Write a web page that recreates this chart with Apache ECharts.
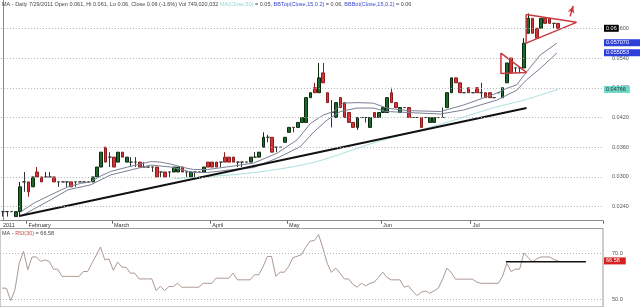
<!DOCTYPE html>
<html><head><meta charset="utf-8">
<script src="https://cdn.jsdelivr.net/npm/echarts@6/dist/echarts.min.js"></script>
<style>html,body{margin:0;padding:0;background:#fff}#c{width:640px;height:307px}</style>
</head><body><div id="c"></div>
<script>
// ---- data ----
const dates = [
"2011-01-21","2011-01-24","2011-01-25","2011-01-27","2011-01-28","2011-01-31",
"2011-02-01","2011-02-02","2011-02-03","2011-02-04","2011-02-07","2011-02-08","2011-02-09","2011-02-10","2011-02-11","2011-02-14","2011-02-15","2011-02-16","2011-02-17","2011-02-18","2011-02-21","2011-02-22","2011-02-23","2011-02-24","2011-02-25","2011-02-28",
"2011-03-01","2011-03-02","2011-03-03","2011-03-04","2011-03-07","2011-03-08","2011-03-09","2011-03-10","2011-03-11","2011-03-14","2011-03-15","2011-03-16","2011-03-17","2011-03-18","2011-03-21","2011-03-22","2011-03-23","2011-03-24","2011-03-25","2011-03-28","2011-03-29","2011-03-30","2011-03-31",
"2011-04-01","2011-04-04","2011-04-05","2011-04-06","2011-04-07","2011-04-08","2011-04-11","2011-04-12","2011-04-13","2011-04-14","2011-04-15","2011-04-18","2011-04-19","2011-04-20","2011-04-21","2011-04-27","2011-04-28","2011-04-29",
"2011-05-02","2011-05-03","2011-05-04","2011-05-05","2011-05-06","2011-05-09","2011-05-10","2011-05-11","2011-05-12","2011-05-13","2011-05-16","2011-05-17","2011-05-18","2011-05-19","2011-05-20","2011-05-23","2011-05-24","2011-05-25","2011-05-26","2011-05-27","2011-05-30","2011-05-31",
"2011-06-01","2011-06-02","2011-06-03","2011-06-06","2011-06-07","2011-06-08","2011-06-09","2011-06-10","2011-06-14","2011-06-15","2011-06-16","2011-06-17","2011-06-20","2011-06-21","2011-06-22","2011-06-23","2011-06-24","2011-06-27","2011-06-28","2011-06-29","2011-06-30",
"2011-07-01","2011-07-04","2011-07-05","2011-07-06","2011-07-07","2011-07-08","2011-07-11","2011-07-12","2011-07-13","2011-07-14","2011-07-15","2011-07-18","2011-07-19","2011-07-20","2011-07-21","2011-07-22","2011-07-25","2011-07-26","2011-07-27","2011-07-28","2011-07-29",
"2011-08-01","2011-08-02","2011-08-03","2011-08-04","2011-08-05","2011-08-08","2011-08-09","2011-08-10","2011-08-11","2011-08-12"
];
const opens = [
.023,.023,.023,.022,.023,.029,
.029,.028,.031,.030,.030,.030,.030,.029,.029,.029,.029,.029,.029,.029,.029,.029,.030,.032,.036,.034,
.034,.033,.035,.033,.033,.033,.033,.032,.032,.032,.032,.031,.031,.031,.031,.031,.032,.031,.030,.031,.031,.031,.033,
.033,.033,.033,.034,.034,.034,.033,.033,.033,.033,.034,.034,.036,.038,.038,.036,.036,.037,
.039,.040,.040,.041,.041,.046,.048,.047,.051,.047,.043,.042,.046,.045,.043,.041,.040,.042,.042,.040,.043,.042,
.043,.043,.047,.045,.043,.044,.044,.042,.042,.042,.042,.041,.041,.042,.042,.044,.047,.050,.049,.047,.048,
.047,.048,.047,.047,.047,.046,.047,.046,.049,.054,.052,.052,.052,.059,.062,.060,.060,.062,.062,.061,.061
];
const closes = [
.023,.023,.023,.023,.028,.029,
.027,.030,.030,.029,.030,.030,.029,.029,.029,.029,.028,.029,.029,.029,.029,.030,.032,.035,.033,.034,
.032,.035,.034,.034,.033,.033,.032,.032,.032,.032,.030,.031,.030,.031,.032,.032,.031,.031,.031,.031,.031,.032,.032,
.032,.032,.033,.033,.033,.033,.033,.033,.033,.034,.034,.035,.038,.038,.035,.036,.036,.038,
.040,.040,.041,.042,.046,.047,.047,.050,.049,.045,.043,.045,.044,.042,.041,.040,.042,.042,.042,.042,.042,.043,
.044,.046,.045,.044,.044,.044,.042,.042,.042,.040,.042,.042,.042,.042,.042,.047,.050,.049,.047,.047,.047,
.047,.047,.047,.046,.046,.046,.047,.048,.053,.051,.052,.052,.057,.062,.059,.058,.062,.061,.061,.061,.060
];
const lows = [
.022,.022,.023,.022,.022,.027,
.026,.028,.030,.029,.030,.030,.029,.028,.029,.028,.028,.028,.029,.029,.029,.029,.030,.032,.033,.032,
.032,.033,.034,.033,.032,.032,.032,.032,.032,.031,.030,.030,.030,.030,.031,.031,.031,.030,.030,.030,.031,.031,.032,
.032,.032,.032,.033,.033,.033,.032,.032,.033,.033,.034,.034,.036,.037,.035,.035,.036,.037,
.039,.039,.040,.041,.041,.046,.047,.047,.049,.045,.040,.042,.044,.042,.041,.040,.0395,.042,.041,.040,.042,.042,
.043,.043,.045,.044,.043,.044,.042,.042,.042,.040,.042,.041,.041,.042,.042,.044,.047,.049,.047,.047,.047,
.047,.047,.046,.046,.046,.046,.047,.046,.049,.051,.051,.051,.052,.059,.059,.058,.060,.061,.061,.060,.060
];
const highs = [
.023,.023,.023,.023,.029,.031,
.029,.030,.032,.030,.031,.031,.030,.029,.029,.029,.029,.029,.029,.029,.029,.030,.032,.035,.036,.035,
.034,.035,.035,.034,.034,.034,.033,.033,.032,.032,.032,.031,.031,.031,.032,.032,.032,.031,.031,.031,.031,.032,.033,
.033,.033,.033,.035,.034,.034,.033,.033,.033,.034,.035,.035,.039,.0385,.038,.036,.036,.038,
.040,.040,.041,.042,.046,.047,.049,.053,.053,.047,.0455,.045,.046,.045,.043,.041,.042,.042,.042,.042,.043,.043,
.044,.046,.048,.045,.044,.044,.044,.042,.042,.042,.042,.042,.042,.042,.044,.047,.050,.050,.049,.047,.048,
.047,.048,.049,.047,.047,.046,.047,.048,.053,.054,.052,.052,.058,.063,.062,.060,.062,.062,.062,.061,.061
];
// indicator lines: [bar index, price]
const bbTop = [[4.2,.0230],[7.2,.0247],[11.2,.0264],[15.2,.0280],[18.2,.0287],[20.5,.0290],[22.9,.0302],[25.2,.0311],[29.2,.0320],[32.2,.0326],[34.6,.0331],[36.9,.0330],[39.3,.0326],[42.3,.0319],[44.6,.0315],[47.9,.0315],[54,.0322],[58.7,.0328],[64.2,.0348],[68.9,.0375],[72,.0408],[75,.0425],[77.4,.0432],[79.7,.0449],[82.9,.0450],[86.7,.0449],[89.9,.0439],[94.6,.0434],[102.4,.0432],[107.8,.0445],[115.6,.0469],[118,.0479],[120.3,.0486],[122.6,.0512],[125.8,.0546],[129.7,.0570]];
const bbBot = [[4.2,.0221],[11.2,.0254],[15.2,.0274],[20.5,.0284],[25.2,.0304],[34.6,.0324],[39.3,.0320],[44.6,.0309],[47.9,.0309],[54,.0315],[58.7,.0319],[64.2,.0338],[69.6,.0361],[72.8,.0391],[75.9,.0415],[79,.0432],[82.9,.0439],[86.7,.0439],[89.9,.0432],[102.4,.0427],[107.8,.0435],[115.6,.0455],[120.3,.0475],[122.6,.0496],[125.8,.0519],[129.7,.0550]];
const ma50 = [[40,.0297],[47,.0300],[60,.0310],[73,.0330],[88,.0372],[102,.0405],[115,.0440],[122,.0455],[130,.0477]];
const trendLine = [[3.8,.0221],[122.6,.0439]];
const flagTriangle = [[116.6,.0550],[122.6,.0511],[116.6,.0509],[116.6,.0550]];
const pennant = [[122.5,.0628],[134.3,.0612],[122.5,.0570],[122.5,.0628]];
const arrowPts = [[132.8,.0624],[133.5,.0645]];
const rsi = [
54.8,54.8,49.4,54.1,65.6,70.7,62.8,68.3,68.3,66.4,67.0,66.4,63.0,63.0,59.9,59.9,59.9,59.9,59.9,62.0,
62.0,65.6,69.0,72.6,67.1,67.4,62.5,66.1,63.9,63.8,61.3,61.3,58.8,58.8,58.8,58.8,53.8,55.5,53.8,55.5,
55.5,56.9,55.2,55.2,55.2,55.2,55.2,56.9,56.9,56.9,59.1,59.1,59.1,59.1,61.3,58.4,58.4,58.4,58.4,60.6,
60.6,64.0,68.5,68.5,59.9,61.7,61.7,64.2,68.0,68.6,69.3,72.5,75.1,75.4,78.0,72.2,65.6,61.6,63.5,61.3,
58.8,58.8,56.5,55.2,56.9,55.8,56.9,57.4,59.4,61.7,59.4,58.4,58.4,58.4,55.2,55.8,53.5,51.6,53.0,53.6,
52.6,53.6,54.8,58.7,63.5,61.6,58.7,58.7,58.7,58.7,58.7,57.4,56.9,56.9,56.9,56.9,56.9,59.9,65.6,62.0,
63.0,63.0,70.0,68.0,66.1,67.5,68.3,68.3,68.3,67.2,66.6
];
const rsiLevel = [[117.8,66.2],[136.5,66.2]];
const priceTicks = [0.024,0.030,0.036,0.042,0.048,0.054,0.060];
const rsiTicks = [50,70];
const monthLabels = ["2011","February","March","April","May","Jun","Jul"];
const lastValues = {close:"0.06", bbTop:0.05707, bbTopText:"0.057070", bbBot:0.055053, bbBotText:"0.055053", ma:0.04766, maText:"0.04766", rsi:66.58, rsiText:"66.58"};

// ---- build ----
const candles = opens.map((o,i)=>[o, closes[i], lows[i], highs[i]]);
const labelAt = {};
let prevM = -1, k = 0;
dates.slice(0, opens.length).forEach((d,i)=>{ const m = +d.slice(5,7); if (m!==prevM){ labelAt[i] = monthLabels[k++]; prevM = m; } });
const isLbl = (i)=> labelAt[i] !== undefined;
const F = 'Liberation Sans, Arial, sans-serif';
const FS = 5.5;
const N = dates.length;
const HIDE = {color:'rgba(0,0,0,0)', width:0};
const boxLabel = (txt, bg, fg, pr) => ({show:true, position:'end', distance:1, formatter:txt, backgroundColor:bg, color:fg, fontSize:FS, fontFamily:F, padding:[1,pr||4,0,2]});

const chart = echarts.init(document.getElementById('c'), null, {renderer:'canvas'});
chart.setOption({
  animation:false,
  backgroundColor:'#fff',
  textStyle:{fontFamily:F},
  title:[
    {left:2, top:1, padding:0, text:"MA - Daily 7/29/2011 Open 0.061, Hi 0.061, Lo 0.06, Close 0.06 (-1.6%) Vol 749,020,032 {t|MA(Close,50)} = 0.05, {b|BBTop(Close,15,0.2)} = 0.06, {b|BBBot(Close,15,0.2)} = 0.06",
     textStyle:{fontSize:FS, fontWeight:'normal', color:'#444', fontFamily:F, rich:{t:{color:'#8fd8d0',fontSize:FS,fontFamily:F},b:{color:'#3a48d0',fontSize:FS,fontFamily:F}}}},
    {left:2, top:230, padding:0, text:"MA - {r|RSI(30)} = 66.58",
     textStyle:{fontSize:FS, fontWeight:'normal', color:'#444', fontFamily:F, rich:{r:{color:'#c04848',fontSize:FS,fontFamily:F}}}}
  ],
  grid:[
    {left:0, top:0, width:603, height:220.7},
    {left:0, top:228.5, width:603, height:80, show:true, borderColor:'#9a9a9a', borderWidth:1}
  ],
  xAxis:[
    {type:'category', gridIndex:0, data:dates, boundaryGap:true,
     axisLine:{lineStyle:{color:'#8a8a8a'}},
     axisTick:{show:true, interval:(i)=>isLbl(i) && i>0, length:3, lineStyle:{color:'#666'}},
     axisLabel:{interval:(i)=>isLbl(i), formatter:(v,i)=>labelAt[i]||'', align:'left', fontSize:FS, color:'#333', margin:1.5, fontFamily:F}},
    {type:'value', gridIndex:0, min:-0.5, max:N-0.5, show:false},
    {type:'value', gridIndex:1, min:-0.5, max:N-0.5, show:false}
  ],
  yAxis:[
    {type:'value', gridIndex:0, position:'right', min:0.02117, max:0.06571, axisLine:{show:true, lineStyle:{color:'#8a8a8a'}}, axisLabel:{show:false}, axisTick:{show:false}, splitLine:{show:false}},
    {type:'value', gridIndex:1, position:'right', min:46.65, max:80.6, axisLine:{show:false}, axisLabel:{show:false}, axisTick:{show:false}, splitLine:{show:false}}
  ],
  series:[
    {type:'candlestick', xAxisIndex:0, yAxisIndex:0, data:candles, barWidth:3.2,
     itemStyle:{color:'#1e6a2c', color0:'#d2363a', borderColor:'#0c2a10', borderColor0:'#8e1c1c', borderColorDoji:'#333', borderWidth:1},
     markLine:{silent:true, symbol:['none','none'], precision:6, animation:false,
       lineStyle:{color:'#b4b4b4', type:[1,2], width:1},
       label:{position:'end', distance:9, fontSize:FS, color:'#555', fontFamily:F, formatter:(p)=>p.value.toFixed(4)},
       data: priceTicks.map(v=>({yAxis:v})).concat([
         {yAxis:0.060, lineStyle:HIDE, label:boxLabel(lastValues.close,'#000','#fff',2)}
       ])}},
    {type:'line', name:'BBTop', xAxisIndex:1, yAxisIndex:0, data:bbTop, showSymbol:false, lineStyle:{color:'#7a8096', width:1}, z:3,
     markLine:{silent:true, symbol:['none','none'], precision:6, lineStyle:HIDE,
       data:[{yAxis:lastValues.bbTop, label:boxLabel(lastValues.bbTopText,'#2e40dc','#fff',12)}]}},
    {type:'line', name:'BBBot', xAxisIndex:1, yAxisIndex:0, data:bbBot, showSymbol:false, lineStyle:{color:'#7a8096', width:1}, z:3,
     markLine:{silent:true, symbol:['none','none'], precision:6, lineStyle:HIDE,
       data:[{yAxis:lastValues.bbBot, label:boxLabel(lastValues.bbBotText,'#2e40dc','#fff',12)}]}},
    {type:'line', name:'MA50', xAxisIndex:1, yAxisIndex:0, data:ma50, showSymbol:false, smooth:0.3, lineStyle:{color:'#a8e2dc', width:1}, z:3,
     markLine:{silent:true, symbol:['none','none'], precision:6, lineStyle:HIDE,
       data:[{yAxis:lastValues.ma, label:boxLabel(lastValues.maText,'#6cd8c8','#333',4)}]}},
    {type:'line', xAxisIndex:1, yAxisIndex:0, data:trendLine, showSymbol:false, lineStyle:{color:'#111', width:2}, z:4},
    {type:'line', xAxisIndex:1, yAxisIndex:0, data:flagTriangle, showSymbol:false, lineStyle:{color:'#c83a3e', width:1.5}, z:4},
    {type:'line', xAxisIndex:1, yAxisIndex:0, data:pennant, showSymbol:false, lineStyle:{color:'#c83a3e', width:1.5}, z:4},
    {type:'line', xAxisIndex:1, yAxisIndex:0, z:4, lineStyle:{color:'#c83a3e', width:1.5}, itemStyle:{color:'#c83a3e'},
     data:[{value:arrowPts[0], symbol:'none', label:{show:true, formatter:'?', position:'right', color:'#c83a3e', fontSize:6, distance:3, offset:[1,-2]}},
           {value:arrowPts[1], symbol:'arrow', symbolSize:[5,7], symbolRotate:-17}]},
    {type:'line', xAxisIndex:2, yAxisIndex:1, data:rsi.map((v,i)=>[i,v]), showSymbol:false, lineStyle:{color:'#ac9890', width:1},
     markLine:{silent:true, symbol:['none','none'], precision:6, lineStyle:{color:'#b4b4b4', type:[1,2], width:1},
       label:{position:'end', distance:9, fontSize:FS, color:'#555', fontFamily:F, formatter:(p)=>p.value.toFixed(1)},
       data: rsiTicks.map(v=>({yAxis:v})).concat([
         {yAxis:lastValues.rsi, lineStyle:HIDE, label:boxLabel(lastValues.rsiText,'#d42222','#fff',6)}
       ])}},
    {type:'line', xAxisIndex:2, yAxisIndex:1, data:rsiLevel, showSymbol:false, lineStyle:{color:'#111', width:1.5}}
  ]
});
</script></body></html>
